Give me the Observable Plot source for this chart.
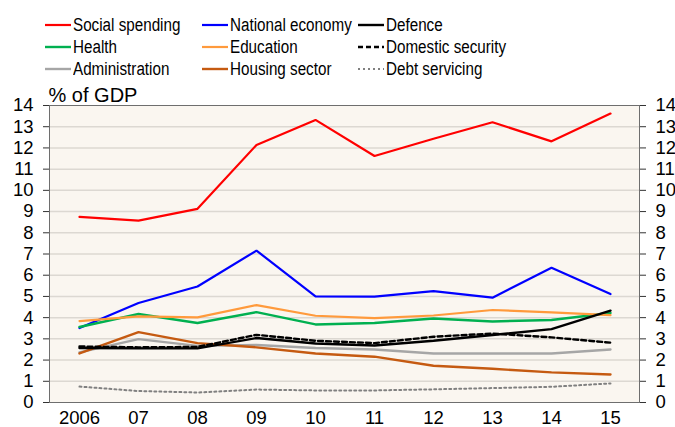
<!DOCTYPE html>
<html>
<head>
<meta charset="utf-8">
<script src="https://cdn.jsdelivr.net/npm/d3@7"></script>
<script src="https://cdn.jsdelivr.net/npm/@observablehq/plot@0.6"></script>
<style>
  html, body { margin: 0; padding: 0; background: #fff; }
  #wrap { position: relative; width: 675px; height: 427px; overflow: hidden; font-family: "Liberation Sans", Arial, sans-serif; }
  #legend { position: absolute; left: 0; top: 0; width: 675px; height: 82px; }
  .item { position: absolute; display: flex; align-items: center; height: 22px; white-space: nowrap;
          font-family: "Liberation Sans", Arial, sans-serif; font-size: 18.8px; color: #000; }
  .item svg { display: block; margin-right: 2px; }
  .item span { display: inline-block; transform: scaleX(0.81); transform-origin: 0 50%; }
  #chart { position: absolute; left: 0; top: 82px; }
</style>
</head>
<body>
<div id="wrap">
  <div id="legend"></div>
  <div id="chart"></div>
</div>
<script>
const years = ["2006", "07", "08", "09", "10", "11", "12", "13", "14", "15"];
const seriesNames = ["Social spending", "National economy", "Defence", "Health", "Education", "Domestic security", "Administration", "Housing sector", "Debt servicing"];

const socialSpending    = [8.75, 8.57, 9.13, 12.14, 13.32, 11.62, 12.43, 13.21, 12.31, 13.62];
const nationalEconomy   = [3.51, 4.69, 5.47, 7.16, 5.00, 4.99, 5.25, 4.94, 6.35, 5.11];
const defence           = [2.57, 2.55, 2.55, 3.04, 2.78, 2.69, 2.91, 3.18, 3.46, 4.33];
const health            = [3.56, 4.17, 3.75, 4.26, 3.68, 3.75, 3.96, 3.82, 3.89, 4.22];
const education         = [3.84, 4.06, 4.01, 4.59, 4.09, 3.98, 4.10, 4.36, 4.25, 4.12];
const domesticSecurity  = [2.64, 2.60, 2.62, 3.19, 2.91, 2.80, 3.10, 3.25, 3.07, 2.82];
const administration    = [2.36, 2.99, 2.67, 2.71, 2.57, 2.50, 2.31, 2.31, 2.31, 2.50];
const housingSector     = [2.31, 3.32, 2.80, 2.60, 2.31, 2.16, 1.73, 1.59, 1.42, 1.32];
const debtServicing     = [0.75, 0.54, 0.47, 0.61, 0.57, 0.57, 0.62, 0.68, 0.74, 0.90];
const yTicks = [0, 1, 2, 3, 4, 5, 6, 7, 8, 9, 10, 11, 12, 13, 14];

const values = [socialSpending, nationalEconomy, defence, health, education, domesticSecurity, administration, housingSector, debtServicing];
const styles = {
  "Social spending":   {stroke: "#ff0000", width: 2.2, dash: null},
  "National economy":  {stroke: "#0000ff", width: 2.2, dash: null},
  "Defence":           {stroke: "#000000", width: 2.4, dash: null},
  "Health":            {stroke: "#00b050", width: 2.4, dash: null},
  "Education":         {stroke: "#ff9a3c", width: 2.2, dash: null},
  "Domestic security": {stroke: "#000000", width: 2.4, dash: "5,3"},
  "Administration":    {stroke: "#a6a6a6", width: 2.4, dash: null},
  "Housing sector":    {stroke: "#c55a11", width: 2.4, dash: null},
  "Debt servicing":    {stroke: "#808080", width: 2, dash: "2,3"}
};

const data = [];
seriesNames.forEach((s, i) => years.forEach((y, j) => data.push({series: s, year: y, value: values[i][j]})));

// Legend
const legendPos = [[45, 14], [202, 14], [358, 14], [45, 36], [202, 36], [358, 36], [45, 58], [202, 58], [358, 58]];
const legend = document.getElementById("legend");
seriesNames.forEach((s, i) => {
  const st = styles[s];
  const el = document.createElement("div");
  el.className = "item";
  el.style.left = legendPos[i][0] + "px";
  el.style.top = legendPos[i][1] + "px";
  el.innerHTML = `<svg width="26" height="6"><line x1="0" y1="3" x2="26" y2="3" stroke="${st.stroke}" stroke-width="${st.width}" ${st.dash ? `stroke-dasharray="${st.dash}"` : ""}/></svg><span>${s}</span>`;
  legend.appendChild(el);
});

const drawOrder = ["Social spending", "National economy", "Health", "Education", "Administration", "Housing sector", "Defence", "Domestic security", "Debt servicing"];

const chart = Plot.plot({
  width: 675,
  height: 345,
  marginTop: 23,
  marginBottom: 25,
  marginLeft: 49,
  marginRight: 36,
  style: {fontFamily: "'Liberation Sans', Arial, sans-serif", fontSize: "18.5px", color: "#000", background: "transparent"},
  x: {type: "point", domain: years, padding: 0.5},
  y: {domain: [0, 14]},
  marks: [
    Plot.frame({fill: "#faf6f0", stroke: null}),
    Plot.gridY(yTicks.filter(t => t > 0 && t < 14), {stroke: "#dcd8d2", strokeOpacity: 1, strokeWidth: 1.5}),
    ...drawOrder.map(s => Plot.line(data.filter(d => d.series === s), {
      x: "year", y: "value",
      stroke: styles[s].stroke, strokeWidth: styles[s].width,
      strokeDasharray: styles[s].dash || undefined,
      strokeLinejoin: "miter"
    })),
    Plot.frame({stroke: "#6e6e6e", strokeWidth: 1}),
    Plot.ruleX([0], {frameAnchor: "left"}),
    Plot.axisY(yTicks, {anchor: "left", tickSize: 6, tickPadding: 10, label: null, stroke: "#333", fill: "#000"}),
    Plot.axisY(yTicks, {anchor: "right", tickSize: 6, tickPadding: 10, label: null, stroke: "#333", fill: "#000"}),
    Plot.axisX({anchor: "bottom", tickSize: 0, tickPadding: 8, label: null, fill: "#000"}),
    Plot.text(["% of GDP"], {frameAnchor: "top-left", textAnchor: "start", lineAnchor: "bottom", dx: -1, dy: -4, fill: "#000", fontSize: 20})
  ]
});
document.getElementById("chart").appendChild(chart);
</script>
</body>
</html>
